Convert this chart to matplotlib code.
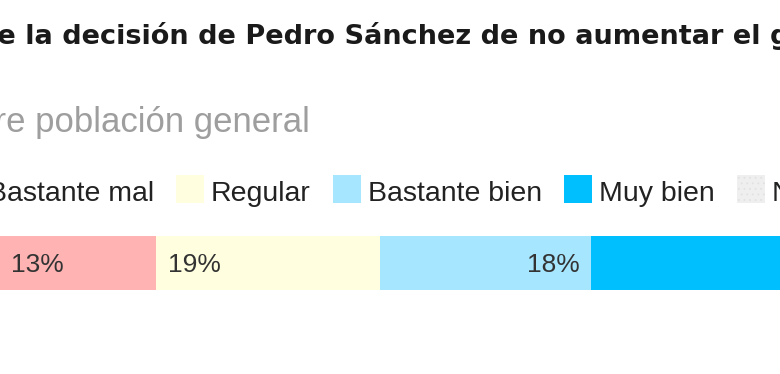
import matplotlib
matplotlib.use("Agg")
import matplotlib.pyplot as plt
from matplotlib.patches import Rectangle
from matplotlib.transforms import IdentityTransform

categorias = ["Muy mal", "Bastante mal", "Regular", "Bastante bien", "Muy bien", "NS/NC"]
valores = [19.6, 13.4, 19.1, 17.9, 25.0, 5.0]
colores = ["#ff7d7d", "#ffb3b3", "#ffffe0", "#a6e6ff", "#00bfff", "#efefef"]
titulo_prefijo = "Valoración d"
titulo = "Valoración de la decisión de Pedro Sánchez de no aumentar el gasto en defensa"
subtitulo = "Encuesta sobre población general"

W, H = 780, 374
plt.rcParams["hatch.linewidth"] = 0.6
fig = plt.figure(figsize=(W / 100, H / 100), dpi=100)
ax = fig.add_axes([0, 0, 1, 1])
ax.axis("off")

# escala: ~11.75 px por punto porcentual, recortada como la imagen original
esc = 11.75
x0 = valores[0] + 1.4 / esc
ax.set_xlim(x0, x0 + W / esc)
ax.set_ylim(H, 0)

font = "Liberation Sans"
pix = IdentityTransform()
r = fig.canvas.get_renderer()

# titulo
t = fig.text(0, 0, titulo_prefijo, fontsize=19.5, fontweight="bold", family="DejaVu Sans", transform=pix)
wpre = t.get_window_extent(r).width
t.remove()
fig.text(-3 - wpre, H - 44, titulo, fontsize=19.5, fontweight="bold", family="DejaVu Sans",
         color="#1a1a1a", transform=pix, va="baseline")

fig.text(310, H - 132, subtitulo, fontsize=25, family=font, color="#9e9e9e",
         transform=pix, ha="right", va="baseline")

# barra
izq = 0
for cat, v, c in zip(categorias, valores, colores):
    ax.barh(263, v, left=izq, height=54, color=c, hatch="..." if cat == "NS/NC" else None,
            edgecolor="#e2e2e2" if cat == "NS/NC" else c, linewidth=0)
    xa = ax.transData.transform((izq, 0))[0]
    xb = ax.transData.transform((izq + v, 0))[0]
    lab = f"{round(v)}%"
    if cat in ("Muy mal", "Bastante mal", "Regular"):
        fig.text(xa + 12, H - 272, lab, fontsize=19, family=font, color="#333333",
                 transform=pix, va="baseline")
    else:
        fig.text(xb - 11, H - 272, lab, fontsize=19, family=font, color="#333333",
                 transform=pix, va="baseline", ha="right")
    izq += v

# leyenda
lado, hueco, sep = 28, 7, 22
anchos = []
for cat in categorias:
    t = fig.text(0, 0, cat, fontsize=20.5, family=font, transform=pix)
    anchos.append(t.get_window_extent(r).width)
    t.remove()
x = 176 - sep - anchos[1] - hueco - lado - sep - anchos[0] - hueco - lado
for cat, c, w in zip(categorias, colores, anchos):
    fig.patches.append(Rectangle((x, H - 203), lado, lado, facecolor=c,
                                 hatch="..." if cat == "NS/NC" else None,
                                 edgecolor="#e2e2e2" if cat == "NS/NC" else c,
                                 linewidth=0, transform=pix, figure=fig))
    fig.text(x + lado + hueco, H - 201, cat, fontsize=20.5, family=font, color="#222222",
             transform=pix, va="baseline")
    x += lado + hueco + w + sep

fig.savefig("out.png", dpi=100)
